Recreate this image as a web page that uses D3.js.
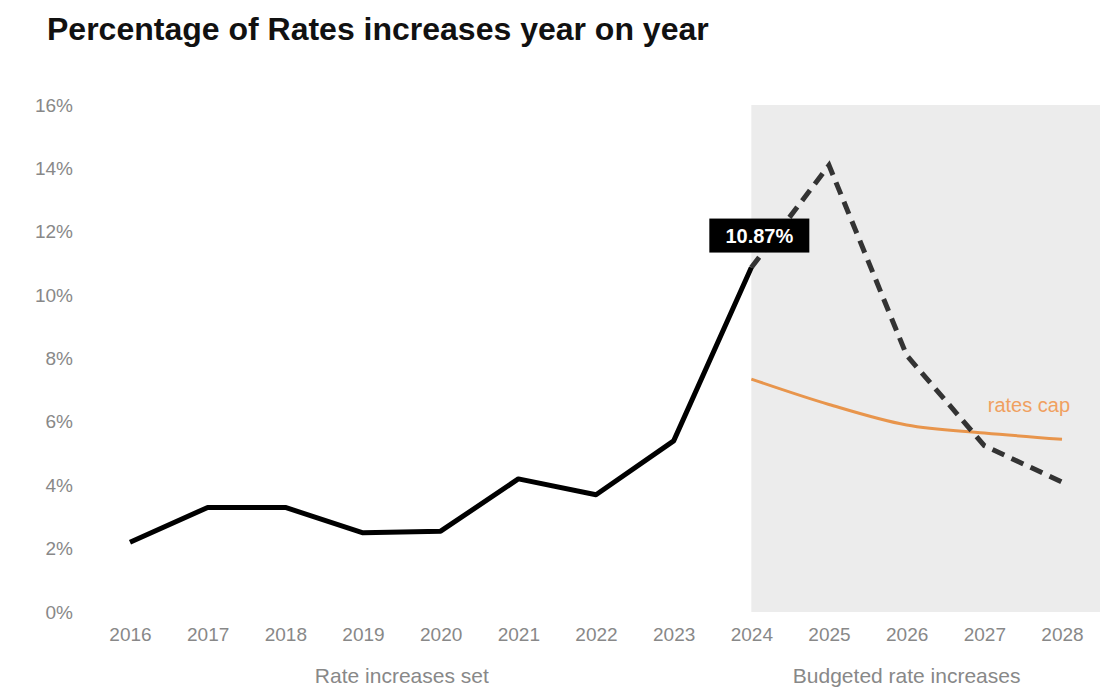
<!DOCTYPE html>
<html><head><meta charset="utf-8">
<script src="https://cdn.jsdelivr.net/npm/d3@7"></script>
<style>body{margin:0;background:#fff;font-family:"Liberation Sans",Arial,sans-serif;}</style>
</head><body><svg id="c" width="1114" height="688"></svg>
<script>
const years = [2016,2017,2018,2019,2020,2021,2022,2023,2024,2025,2026,2027,2028];
const actual = [2.2,3.3,3.3,2.5,2.55,4.2,3.7,5.4,10.87];
const budgeted = [10.87,14.1,8.1,5.25,4.1];
const budgetYears = [2024,2025,2026,2027,2028];
const ratesCap = [7.35,6.55,5.9,5.65,5.45];
const yTicks = [0,2,4,6,8,10,12,14,16];
const groups = [{label:"Rate increases set", from:2016, to:2023},{label:"Budgeted rate increases", from:2024, to:2028}];

const svg = d3.select("#c");
const x = d3.scaleLinear().domain([2016,2028]).range([130,1062]);
const y = d3.scaleLinear().domain([0,16]).range([612,105]);
const FF = "Liberation Sans, Arial, sans-serif";

svg.append("text").attr("x",47).attr("y",40).attr("font-size",32).attr("font-weight","bold").attr("fill","#111").text("Percentage of Rates increases year on year");

// shaded budget area
svg.append("rect").attr("x",x(2024)).attr("y",y(16)).attr("width",x(2028)+38-x(2024)).attr("height",y(0)-y(16)).attr("fill","#ececec");

// y axis
const ya = svg.append("g").attr("transform","translate(76,0)").call(d3.axisLeft(y).tickValues(yTicks).tickFormat(d=>d+"%").tickSize(0));
ya.select(".domain").remove();
ya.selectAll("text").attr("font-size",19).attr("fill","#888").attr("font-family",FF);

// x axis
const xa = svg.append("g").attr("transform","translate(0,624)").call(d3.axisBottom(x).tickValues(years).tickFormat(d3.format("d")).tickSize(0));
xa.select(".domain").remove();
xa.selectAll("text").attr("font-size",19).attr("fill","#888").attr("dy","0.71em").attr("font-family",FF);

groups.forEach(g=>{
  svg.append("text").attr("x",(x(g.from)+x(g.to))/2).attr("y",683).attr("text-anchor","middle").attr("font-size",21).attr("fill","#888").text(g.label);
});

const line = d3.line().x(d=>x(d[0])).y(d=>y(d[1]));
svg.append("path").datum(ratesCap.map((v,i)=>[budgetYears[i],v])).attr("d",line.curve(d3.curveMonotoneX)).attr("fill","none").attr("stroke","#e8954c").attr("stroke-width",3);
line.curve(d3.curveLinear);
svg.append("path").datum(budgeted.map((v,i)=>[budgetYears[i],v])).attr("d",line).attr("fill","none").attr("stroke","#333").attr("stroke-width",5).attr("stroke-dasharray","13,8");
svg.append("path").datum(actual.map((v,i)=>[years[i],v])).attr("d",line).attr("fill","none").attr("stroke","#000").attr("stroke-width",5).attr("stroke-linejoin","round");

svg.append("text").attr("x",x(2028)+8).attr("y",y(ratesCap[4])-27).attr("text-anchor","end").attr("font-size",20).attr("fill","#f0a060").text("rates cap");

// value label
const lx = x(2024)+8, ly = y(10.87)-32;
svg.append("rect").attr("x",lx-50).attr("y",ly-17).attr("width",100).attr("height",34).attr("fill","#000");
svg.append("text").attr("x",lx).attr("y",ly+7).attr("text-anchor","middle").attr("font-size",20).attr("font-weight","bold").attr("fill","#fff").text(actual[8].toFixed(2)+"%");
</script></body></html>
